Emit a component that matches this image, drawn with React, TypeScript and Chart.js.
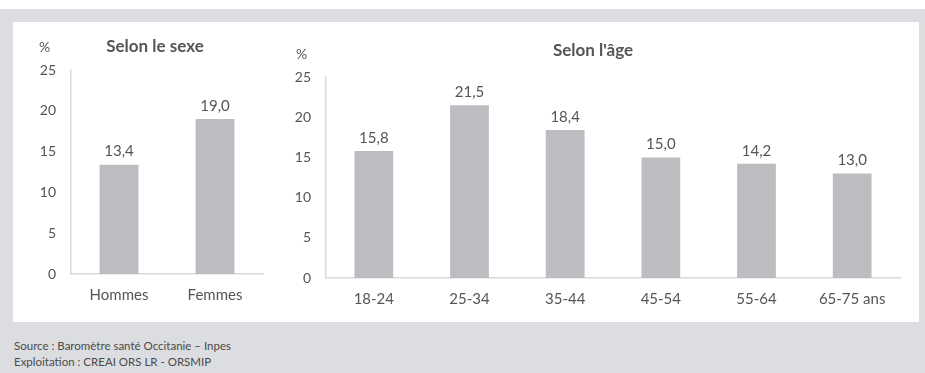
import React, { useEffect, useRef } from 'react';
import { Chart, registerables } from 'chart.js';

Chart.register(...registerables);

// ---- data ----
const sexCategories = ['Hommes', 'Femmes'];
const sexValues = [13.4, 19.0];
const ageCategories = ['18-24', '25-34', '35-44', '45-54', '55-64', '65-75 ans'];
const ageValues = [15.8, 21.5, 18.4, 15.0, 14.2, 13.0];
const yMin = 0;
const yMax = 25;
const yStep = 5;

const sexTitle = 'Selon le sexe';
const ageTitle = "Selon l'âge";
const unitLabel = '%';
const sourceLines = ['Source : Baromètre santé Occitanie – Inpes', 'Exploitation : CREAI ORS LR - ORSMIP'];

// ---- styles ----
const FONT = 'Lato, "Open Sans", sans-serif';
const TEXT = '#555555';
const BAR = '#bcbdc0';
const AXIS = '#d9d9d9';
const BG = '#dcdde0';

const fmt = (v: number) => v.toFixed(1).replace('.', ',');

const valueLabels = {
  id: 'valueLabels',
  afterDatasetsDraw(chart: any) {
    const ctx = chart.ctx;
    const meta = chart.getDatasetMeta(0);
    const data = chart.data.datasets[0].data as number[];
    ctx.save();
    ctx.font = `15px ${FONT}`;
    ctx.fillStyle = TEXT;
    ctx.textAlign = 'center';
    ctx.textBaseline = 'middle';
    meta.data.forEach((bar: any, i: number) => {
      ctx.fillText(fmt(data[i]), bar.x, bar.y - 13);
    });
    ctx.restore();
  },
};

function makeChart(
  canvas: HTMLCanvasElement,
  labels: string[],
  values: number[],
  yWidth: number,
  padding: { top: number; right: number; bottom: number; left: number }
) {
  return new Chart(canvas, {
    type: 'bar',
    data: {
      labels,
      datasets: [
        {
          data: values,
          backgroundColor: BAR,
          borderWidth: 0,
          barPercentage: 0.405,
          categoryPercentage: 1,
        },
      ],
    },
    options: {
      animation: false,
      responsive: false,
      devicePixelRatio: 1,
      layout: { padding },
      plugins: {
        legend: { display: false },
        tooltip: { enabled: false },
        title: { display: false },
      },
      scales: {
        x: {
          grid: { display: false, drawTicks: false },
          border: { display: true, color: AXIS, width: 1.5 },
          ticks: { color: TEXT, font: { family: FONT, size: 15 }, padding: 12, maxRotation: 0 },
          afterFit: (scale: any) => {
            scale.height = 36;
          },
        },
        y: {
          min: yMin,
          max: yMax,
          grid: { display: false, drawTicks: false },
          border: { display: true, color: AXIS, width: 1.5 },
          ticks: { stepSize: yStep, color: TEXT, font: { family: FONT, size: 14 }, padding: 15 },
          afterFit: (scale: any) => {
            scale.width = yWidth;
          },
        },
      },
    },
    plugins: [valueLabels],
  } as any);
}

const abs = (left: number, top: number, extra: React.CSSProperties = {}): React.CSSProperties => ({
  position: 'absolute',
  left,
  top,
  ...extra,
});

export default function App() {
  const leftRef = useRef<HTMLCanvasElement>(null);
  const rightRef = useRef<HTMLCanvasElement>(null);

  useEffect(() => {
    const c1 = makeChart(leftRef.current!, sexCategories, sexValues, 51, { top: 30, right: 7, bottom: 0, left: 0 });
    const c2 = makeChart(rightRef.current!, ageCategories, ageValues, 56, { top: 37, right: 10, bottom: 0, left: 0 });
    return () => {
      c1.destroy();
      c2.destroy();
    };
  }, []);

  const textBase: React.CSSProperties = { fontFamily: FONT, color: TEXT, whiteSpace: 'nowrap', lineHeight: 1 };

  return (
    <div style={{ position: 'absolute', left: 0, top: 0, width: 925, height: 373, background: '#fff', overflow: 'hidden' }}>
      <div style={abs(0, 9, { width: 925, height: 364, background: BG })} />
      <div style={abs(13, 22, { width: 906, height: 300, background: '#fff' })} />
      <canvas ref={leftRef} width={250} height={270} style={abs(20, 40, { width: 250, height: 270 })} />
      <canvas ref={rightRef} width={640} height={274} style={abs(270, 40, { width: 640, height: 274 })} />
      <div style={abs(39, 40, { ...textBase, fontSize: 14 })}>{unitLabel}</div>
      <div style={abs(296, 47, { ...textBase, fontSize: 14 })}>{unitLabel}</div>
      <div style={abs(155, 37, { ...textBase, fontSize: 17, fontWeight: 700, transform: 'translateX(-50%)' })}>{sexTitle}</div>
      <div style={abs(593, 41, { ...textBase, fontSize: 17, fontWeight: 700, transform: 'translateX(-50%)' })}>{ageTitle}</div>
      <div style={abs(14, 340, { ...textBase, fontSize: 11.5, color: '#4a4a4a' })}>{sourceLines[0]}</div>
      <div style={abs(14, 356, { ...textBase, fontSize: 11.5, color: '#4a4a4a' })}>{sourceLines[1]}</div>
    </div>
  );
}
